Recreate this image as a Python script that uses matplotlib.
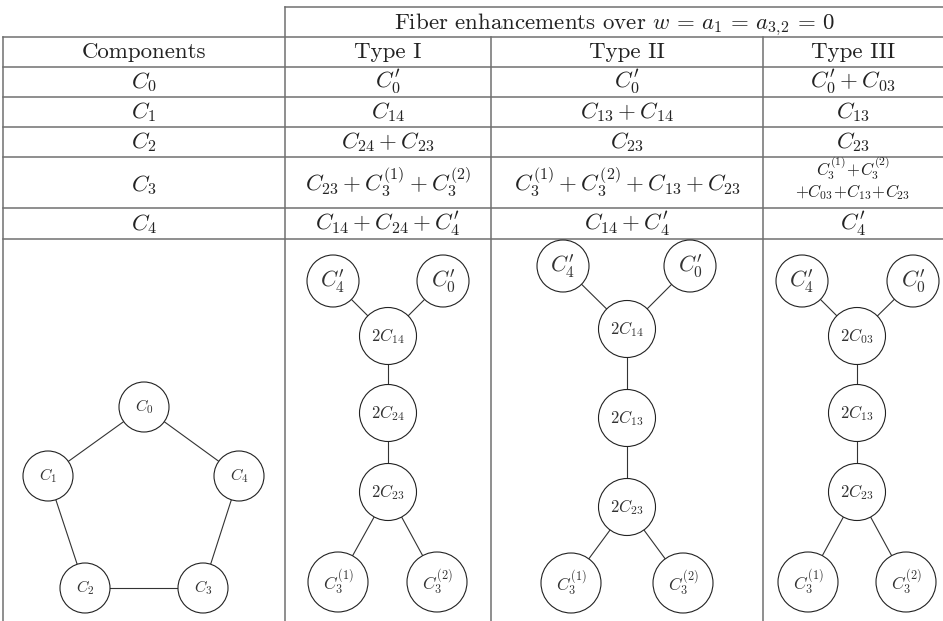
import matplotlib
matplotlib.use("Agg")
import matplotlib.pyplot as plt
from matplotlib.patches import Circle

plt.rcParams['mathtext.fontset'] = 'cm'
plt.rcParams['font.family'] = ['cmr10', 'DejaVu Serif']
plt.rcParams['axes.unicode_minus'] = False

# ---------------- table content ----------------
span_header = r"Fiber enhancements over $w \,=\, a_1 \,=\, a_{3{,}2} \,=\, 0$"
col_headers = ["Components", "Type I", "Type II", "Type III"]
components = [r"$C_0$", r"$C_1$", r"$C_2$", r"$C_3$", r"$C_4$"]
type_1 = [r"$C_0'$", r"$C_{14}$", r"$C_{24} + C_{23}$",
          r"$C_{23} + C_3^{(1)} + C_3^{(2)}$", r"$C_{14} + C_{24} + C_4'$"]
type_2 = [r"$C_0'$", r"$C_{13} + C_{14}$", r"$C_{23}$",
          r"$C_3^{(1)} + C_3^{(2)} + C_{13} + C_{23}$", r"$C_{14} + C_4'$"]
type_3 = [r"$C_0' + C_{03}$", r"$C_{13}$", r"$C_{23}$",
          [r"$C_3^{(1)}\!+\!C_3^{(2)}$", r"$+C_{03}\!+\!C_{13}\!+\!C_{23}$"], r"$C_4'$"]

# ---------------- graphs ----------------
pent_labels = [r"$C_0$", r"$C_1$", r"$C_2$", r"$C_3$", r"$C_4$"]
pent_edges = [(0, 1), (1, 2), (2, 3), (3, 4), (4, 0)]

tree_labels_1 = [r"$C_4'$", r"$C_0'$", r"$2C_{14}$", r"$2C_{24}$", r"$2C_{23}$",
                 r"$C_3^{(1)}$", r"$C_3^{(2)}$"]
tree_labels_2 = [r"$C_4'$", r"$C_0'$", r"$2C_{14}$", r"$2C_{13}$", r"$2C_{23}$",
                 r"$C_3^{(1)}$", r"$C_3^{(2)}$"]
tree_labels_3 = [r"$C_4'$", r"$C_0'$", r"$2C_{03}$", r"$2C_{13}$", r"$2C_{23}$",
                 r"$C_3^{(1)}$", r"$C_3^{(2)}$"]
tree_edges = [(0, 2), (1, 2), (2, 3), (3, 4), (4, 5), (4, 6)]

# ---------------- layout (pixel coords) ----------------
W, H = 943, 621
col_x = [3, 285, 491, 763, 943]
row_y = [37, 67, 97, 127, 157, 208, 239]
top_y = 7

pent_pos = [(144, 407), (48, 476), (85, 588), (203, 588), (239, 476)]
pent_r = [25] * 5

tree_pos_1 = [(333, 281), (443, 281), (388, 336), (388, 413), (388, 492),
              (338, 582), (437, 582)]
tree_pos_2 = [(563, 266), (690, 266), (627, 329), (627, 418), (627, 507),
              (571, 583), (683, 583)]
tree_pos_3 = [(802, 281), (913, 281), (857, 336), (857, 413), (857, 492),
              (808, 582), (906, 582)]
tree_r = [26, 26, 28.5, 28.5, 28.5, 30, 30]
tree_fs = [16, 16, 12, 12, 12, 12.5, 12.5]

fig = plt.figure(figsize=(W / 100, H / 100), dpi=100)
ax = fig.add_axes([0, 0, 1, 1])
ax.set_xlim(0, W)
ax.set_ylim(H, 0)
ax.axis('off')

line_c = '#707070'
lw_tab = 1.1

# horizontal rules
ax.plot([col_x[1], W], [top_y, top_y], color=line_c, lw=lw_tab)
for y in row_y:
    ax.plot([col_x[0], W], [y, y], color=line_c, lw=lw_tab)
# vertical rules
ax.plot([col_x[0], col_x[0]], [row_y[0], H], color=line_c, lw=lw_tab)
ax.plot([col_x[1], col_x[1]], [top_y, H], color=line_c, lw=lw_tab)
ax.plot([col_x[2], col_x[2]], [row_y[0], H], color=line_c, lw=lw_tab)
ax.plot([col_x[3], col_x[3]], [row_y[0], H], color=line_c, lw=lw_tab)

fs = 16.5
txt_c = '#222222'
ax.text((col_x[1] + col_x[4]) / 2, top_y + 22, span_header, ha='center',
        va='baseline', fontsize=fs, color=txt_c)
for i, h in enumerate(col_headers):
    ax.text((col_x[i] + col_x[i + 1]) / 2, row_y[0] + 21, h, ha='center',
            va='baseline', fontsize=fs, color=txt_c)

columns = [components, type_1, type_2, type_3]
for ci, col in enumerate(columns):
    cx = (col_x[ci] + col_x[ci + 1]) / 2
    for ri, val in enumerate(col):
        y0, y1 = row_y[ri + 1], row_y[ri + 2]
        if isinstance(val, list):
            ax.text(cx, y0 + 19, val[0], ha='center', va='baseline',
                    fontsize=12, color=txt_c)
            ax.text(cx, y0 + 40, val[1], ha='center', va='baseline',
                    fontsize=12, color=txt_c)
        else:
            base = y1 - 9 if (y1 - y0) < 40 else (y0 + y1) / 2 + 9
            ax.text(cx, base, val, ha='center', va='baseline',
                    fontsize=fs, color=txt_c)


def draw_graph(pos, radii, labels, edges, fsizes):
    for a, b in edges:
        ax.plot([pos[a][0], pos[b][0]], [pos[a][1], pos[b][1]],
                color='#333333', lw=0.8, zorder=1)
    for (x, y), r, lab, f in zip(pos, radii, labels, fsizes):
        ax.add_patch(Circle((x, y), r, facecolor='white', edgecolor='#222222',
                            lw=0.8, zorder=2))
        ax.text(x, y, lab, ha='center', va='center', fontsize=f,
                color='#333333', zorder=3)


draw_graph(pent_pos, pent_r, pent_labels, pent_edges, [11.5] * 5)
draw_graph(tree_pos_1, tree_r, tree_labels_1, tree_edges, tree_fs)
draw_graph(tree_pos_2, tree_r, tree_labels_2, tree_edges, tree_fs)
draw_graph(tree_pos_3, tree_r, tree_labels_3, tree_edges, tree_fs)

fig.savefig('out.png', dpi=100)
